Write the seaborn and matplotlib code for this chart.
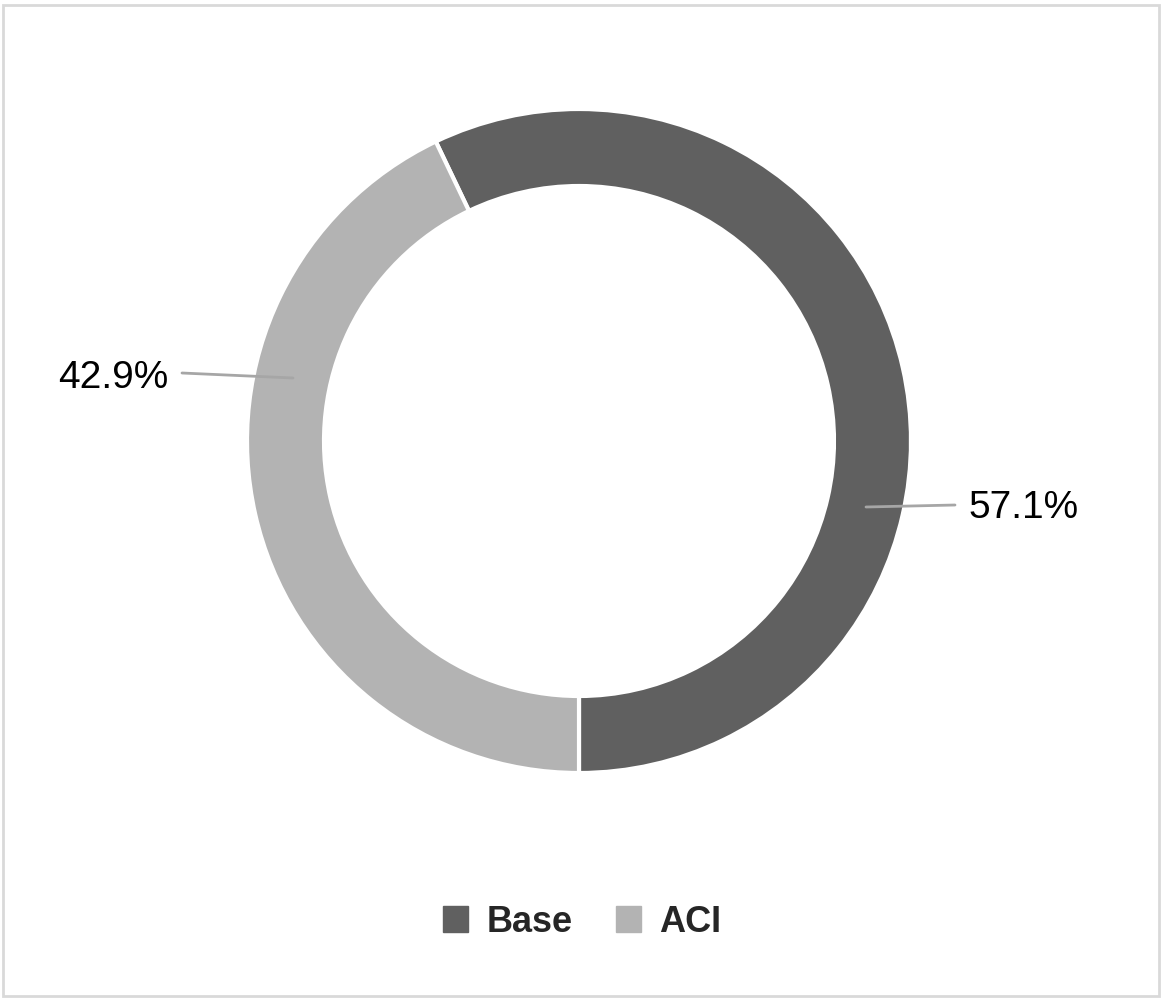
import matplotlib
matplotlib.use("Agg")
import matplotlib.pyplot as plt
import matplotlib.patches as mpatches
import seaborn as sns

sns.set_theme(style="white")
plt.rcParams['font.family'] = ['Liberation Sans', 'DejaVu Sans']

labels = ["Base", "ACI"]
values = [57.1, 42.9]
colors = ["#606060", "#b3b3b3"]

fig = plt.figure(figsize=(11.64, 9.99), dpi=100)
ax = fig.add_axes([0, 0, 1, 1])

wedges, _ = ax.pie(values, colors=colors, startangle=90, counterclock=False,
                   center=(579, 441), radius=332,
                   wedgeprops=dict(width=77, edgecolor="white", linewidth=3))

# leader lines and labels (pixel coords)
ax.plot([866, 955], [507, 505], color="#a6a6a6", lw=2)
ax.text(968, 508, f"{values[0]:.1f}%", fontsize=28, va="center", ha="left", color="black")
ax.plot([182, 293], [373, 378], color="#a6a6a6", lw=2)
ax.text(168, 378, f"{values[1]:.1f}%", fontsize=28, va="center", ha="right", color="black")

ax.set_xlim(0, 1164)
ax.set_ylim(999, 0)
ax.set_aspect("equal")
ax.axis("off")

handles = [mpatches.Patch(color=c, label=l) for c, l in zip(colors, labels)]
leg = fig.legend(handles=handles, loc="center", bbox_to_anchor=(0.5, 1 - 922 / 999),
                 ncol=2, frameon=False, handlelength=0.7, handleheight=0.7,
                 handletextpad=0.5, columnspacing=1.2,
                 prop={"size": 26, "weight": "bold"})

fig.patches.append(mpatches.Rectangle((3, 3), 1156, 991, transform=None, fill=False,
                                      edgecolor="#d9d9d9", lw=2))
fig.savefig("out.png", dpi=100, facecolor="white")
